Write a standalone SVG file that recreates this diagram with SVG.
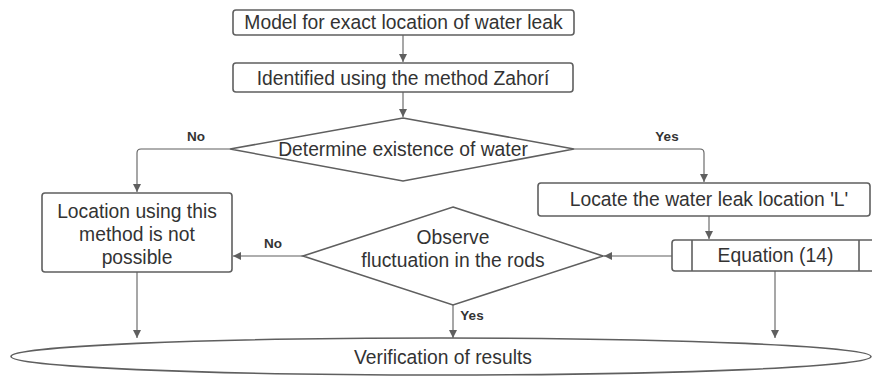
<svg xmlns="http://www.w3.org/2000/svg" width="872" height="376" viewBox="0 0 872 376">
<defs>
<marker id="arr" viewBox="0 0 10 10" refX="10" refY="5" markerWidth="8" markerHeight="8" markerUnits="userSpaceOnUse" orient="auto">
<path d="M0,0 L10,5 L0,10 z" fill="#5f5f5f"/>
</marker>
<style>
.shape{fill:#ffffff;stroke:#5f5f5f;stroke-width:1.6}
.conn{fill:none;stroke:#5f5f5f;stroke-width:1.1;marker-end:url(#arr)}
.t{font-family:"Liberation Sans",Arial,sans-serif;font-size:19.3px;fill:#333333;text-anchor:middle}
.lbl{font-family:"Liberation Sans",Arial,sans-serif;font-size:13.5px;font-weight:bold;fill:#333333;text-anchor:middle}
</style>
</defs>
<rect width="872" height="376" fill="#ffffff"/>
<g id="connectors">
<path class="conn" d="M403,35 L403,62"/>
<path class="conn" d="M403,92 L403,117"/>
<path class="conn" d="M230,149 L141,149 Q137,149 137,153 L137,192"/>
<path class="conn" d="M574,149 L700,149 Q704,149 704,153 L704,182"/>
<path class="conn" d="M709,216 L709,239"/>
<path class="conn" d="M672,256 L604,256"/>
<path class="conn" d="M303,256 L233,256"/>
<path class="conn" d="M137,272 L137,338"/>
<path class="conn" d="M453,305 L453,338"/>
<path class="conn" d="M775,271 L775,338"/>
<text class="lbl" x="196" y="140.5">No</text>
<text class="lbl" x="667" y="140.5">Yes</text>
<text class="lbl" x="273" y="247.5">No</text>
<text class="lbl" x="472" y="320">Yes</text>
</g>
<g id="n1">
<rect class="shape" x="233" y="10" width="341" height="25" rx="3"/>
<text class="t" x="403.5" y="29.3">Model for exact location of water leak</text>
</g>
<g id="n2">
<rect class="shape" x="233" y="63" width="340" height="29" rx="3"/>
<text class="t" x="403" y="84.5">Identified using the method Zahorí</text>
</g>
<g id="n3">
<polygon class="shape" points="403,118 574,149 403,181 230,149"/>
<text class="t" x="403" y="156">Determine existence of water</text>
</g>
<g id="n4">
<rect class="shape" x="42" y="193" width="190" height="79" rx="3"/>
<text class="t" x="137" y="217.5">Location using this</text>
<text class="t" x="137" y="240.8">method is not</text>
<text class="t" x="137" y="263.8">possible</text>
</g>
<g id="n5">
<rect class="shape" x="538" y="183" width="332" height="33" rx="3"/>
<text class="t" x="709" y="206.3">Locate the water leak location 'L'</text>
</g>
<g id="n6">
<rect class="shape" x="672" y="240" width="207" height="31" rx="3"/>
<line class="shape" x1="692" y1="240" x2="692" y2="271"/>
<line class="shape" x1="859" y1="240" x2="859" y2="271"/>
<text class="t" x="775.5" y="262.3">Equation (14)</text>
</g>
<g id="n7">
<polygon class="shape" points="453,207 603,256 453,305 303,256"/>
<text class="t" x="453" y="243.5">Observe</text>
<text class="t" x="453" y="266.8">fluctuation in the rods</text>
</g>
<g id="n8">
<ellipse class="shape" cx="441" cy="356.5" rx="430" ry="18.5"/>
<text class="t" x="443" y="363.8">Verification of results</text>
</g>
</svg>
